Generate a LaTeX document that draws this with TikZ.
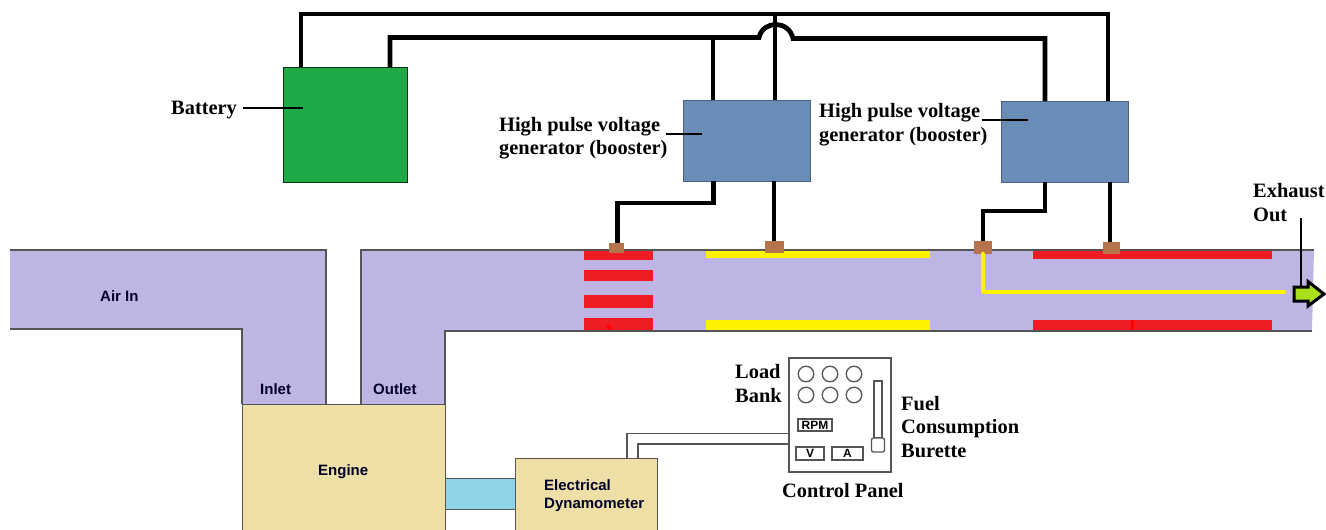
\documentclass[tikz,border=0pt]{standalone}
\usepackage{fontspec}
\setmainfont{Liberation Serif}
\setsansfont{Liberation Sans}
\definecolor{duct}{HTML}{BEB5E5}
\definecolor{enginec}{HTML}{EDDFA6}
\definecolor{shaftc}{HTML}{8FD3E8}
\definecolor{battc}{HTML}{1FA947}
\definecolor{genc}{HTML}{6A8DB7}
\definecolor{termc}{HTML}{B5744C}
\definecolor{redc}{HTML}{EE1C25}
\definecolor{yelc}{HTML}{FFF200}
\definecolor{arrc}{HTML}{A8E01C}
\definecolor{edge}{HTML}{555555}
\tikzset{
  blockbox/.style={draw=#1!70!black,line width=1pt,inner sep=0pt,outer sep=0pt},
  wire/.style={draw=black,line width=4.8pt,line join=miter},
  leader/.style={draw=black,line width=2.4pt},
  thinwire/.style={draw=edge,line width=1.5pt},
  panelline/.style={draw=edge,line width=1.3pt,fill=white,inner sep=0pt,outer sep=0pt},
  lab/.style={font=\fontsize{20.4}{24}\selectfont\bfseries,text=black,inner sep=0pt,align=left,anchor=base west},
  slab/.style={font=\fontsize{15}{18}\selectfont\sffamily\bfseries,text=black!85!blue,inner sep=0pt,align=left,anchor=base west},
  strip/.style={fill=#1,draw=none},
  term/.style={fill=termc,draw=none,inner sep=0pt,outer sep=0pt},
  dial/.style={circle,panelline,minimum size=15.5pt},
  meter/.style={panelline,font=\fontsize{12}{12}\selectfont\sffamily\bfseries},
}
\begin{document}
\begin{tikzpicture}[x=1pt,y=-1pt]
\useasboundingbox (0,0) rectangle (1326,530);
\clip (0,0) rectangle (1326,530);
% duct
\fill[duct] (10,250) -- (326,250) -- (326,404) -- (361,404) -- (361,250) -- (1314,250) -- (1312,331) -- (445,331) -- (445,404) -- (242,404) -- (242,329) -- (10,329) -- cycle;
% strips
\draw[edge,line width=1.2pt] (10,250) -- (326,250) -- (326,404);
\draw[edge,line width=1.2pt] (361,404) -- (361,250) -- (1314,250);
\draw[edge,line width=1.2pt] (10,329) -- (242,329) -- (242,404);
\draw[edge,line width=1.2pt] (445,404) -- (445,331) -- (1312,331);
\foreach \a/\b in {250.6/260,270/281,295/308,318/330.4}{\fill[strip=redc] (584,\a) rectangle (653,\b);}
\fill[strip=yelc] (706,250.6) rectangle (930,258);
\fill[strip=yelc] (706,320) rectangle (930,330.4);
\fill[strip=redc] (1033,250.6) rectangle (1272,258.5);
\fill[strip=redc] (1033,320) rectangle (1272,330.4);
\fill[red] (609,327) circle (2.5);
\fill[red] (1131,320) rectangle (1134,330.4);
% blocks
\node[blockbox=enginec,fill=enginec,draw=edge,minimum width=203pt,minimum height=150pt,anchor=north west] (engine) at (242,404) {};
\node[blockbox=shaftc,fill=shaftc,draw=edge,minimum width=70pt,minimum height=31pt,anchor=north west] (shaft) at (445,478) {};
\node[blockbox=enginec,fill=enginec,draw=edge,minimum width=142pt,minimum height=90pt,anchor=north west] (dyno) at (515,458) {};
\node[blockbox=battc,fill=battc,draw=black!70!battc,minimum width=124.5pt,minimum height=115.5pt,anchor=north west] (batt) at (283,67) {};
\node[blockbox=genc,fill=genc,minimum width=127.5pt,minimum height=81pt,anchor=north west] (gena) at (683,100) {};
\node[blockbox=genc,fill=genc,minimum width=127.5pt,minimum height=81pt,anchor=north west] (genb) at (1001,101) {};
% terminals
\node[term,minimum width=15pt,minimum height=10pt,anchor=north west] (ta) at (609,243) {};
\node[term,minimum width=19pt,minimum height=12pt,anchor=north west] (tb) at (765,241) {};
\node[term,minimum width=18pt,minimum height=13pt,anchor=north west] (tc) at (974,241) {};
\node[term,minimum width=17pt,minimum height=12pt,anchor=north west] (td) at (1103,242) {};
% wire routing points
\coordinate (c1) at (301,14);
\coordinate (c2) at (1108,14);
\coordinate (c3) at (390,37.5);
\coordinate (c4) at (759,37.5);
\coordinate (c5) at (793,38.5);
\coordinate (c6) at (1045,38.5);
\coordinate (c7) at (713,37.5);
\coordinate (c8) at (775,14);
\coordinate (c9) at (713.5,203);
\coordinate (c10) at (617.5,203);
\coordinate (c11) at (1045,211);
\coordinate (c12) at (983,211);
\coordinate (c13) at (774,181);
\coordinate (c14) at (1110,182);
\draw[wire] (batt.north -| c1) -- (c1) -- (c2) -- (genb.north -| c2);
\draw[wire] (batt.north -| c3) -- (c3) -- (c4) .. controls (763,20) and (789,20) .. (c5) -- (c6) -- (genb.north -| c6);
\draw[wire] (c7) -- (gena.north -| c7);
\draw[wire] (c8) -- (gena.north -| c8);
\draw[wire] (gena.south -| c9) -- (c9) -- (c10) -- (ta.north -| c10);
\draw[wire] (c13) -- (tb.north -| c13);
\draw[wire] (genb.south -| c11) -- (c11) -- (c12) -- (tc.north -| c12);
\draw[wire] (c14) -- (td.north -| c14);
% yellow electrode
\coordinate (y1) at (1284,292);
\draw[yelc,line width=4.5pt,line join=round,line cap=round] (tc.south -| c12) -- (c12 |- y1) -- (y1);
% exhaust
\coordinate (ex1) at (1301,218);
\coordinate (ex2) at (1301,287);
\draw[black,line width=3pt,fill=arrc,line join=miter] (1294,287) -- (1308,287) -- (1308,281.5) -- (1324,294) -- (1308,306) -- (1308,301) -- (1294,301) -- cycle;
\draw[leader] (ex1) -- (ex2);
\node[lab] (exh) at (1253,197) {Exhaust};
\node[lab] (out) at (1253,221) {Out};
% panel
\node[panelline,minimum width=102pt,minimum height=114pt,anchor=north west] (panel) at (789,358) {};
\foreach \n/\x/\y in {d1/806/374,d2/830/374,d3/854/374,d4/806/395,d5/830/395,d6/854/395}{\node[dial] (\n) at (\x,\y) {};}
\node[meter,minimum width=34pt,minimum height=12pt,anchor=north west] (rpm) at (798,419) {RPM};
\node[meter,minimum width=28pt,minimum height=13pt,anchor=north west] (vm) at (796,447) {V};
\node[meter,minimum width=31pt,minimum height=13pt,anchor=north west] (am) at (832,447) {A};
\node[panelline,minimum width=8pt,minimum height=57pt,anchor=north west] (tube) at (874,381) {};
\node[panelline,rounded corners=2pt,minimum width=13pt,minimum height=14pt,anchor=north] (bulb) at (tube.south) {};
\coordinate (p1) at (627,433.5);
\coordinate (p2) at (638,444);
\draw[thinwire] (dyno.north -| p1) -- (p1) -- (panel.west |- p1);
\draw[thinwire] (dyno.north -| p2) -- (p2) -- (panel.west |- p2);
% labels
\node[lab] (lbatt) at (171,114) {Battery};
\coordinate (l1) at (243,108);
\coordinate (l2) at (303,108);
\draw[leader] (l1) -- (l2);
\node[lab] (lga) at (499,131) {High pulse voltage};
\node[lab] (lga2) at (499,154.5) {generator (booster)};
\node[lab] (lgb) at (819,117) {High pulse voltage};
\node[lab] (lgb2) at (819,141) {generator (booster)};
\coordinate (l3) at (666,134);
\coordinate (l4) at (702,134);
\coordinate (l5) at (982,120);
\coordinate (l6) at (1028,120);
\draw[leader] (l3) -- (l4);
\draw[leader] (l5) -- (l6);
\node[lab] (load) at (735,378) {Load};
\node[lab] (bank) at (735,402) {Bank};
\node[lab] (fuel) at (901,410) {Fuel};
\node[lab] (cons) at (901,433.5) {Consumption};
\node[lab] (bur) at (901,457) {Burette};
\node[lab] (cp) at (782,497) {Control Panel};
\node[slab] (air) at (100,301) {Air In};
\node[slab] (inl) at (260,394) {Inlet};
\node[slab] (outl) at (373,394) {Outlet};
\node[slab] (eng) at (318,475) {Engine};
\node[slab] (ed1) at (544,490) {Electrical};
\node[slab] (ed2) at (544,508) {Dynamometer};
\end{tikzpicture}
\end{document}
